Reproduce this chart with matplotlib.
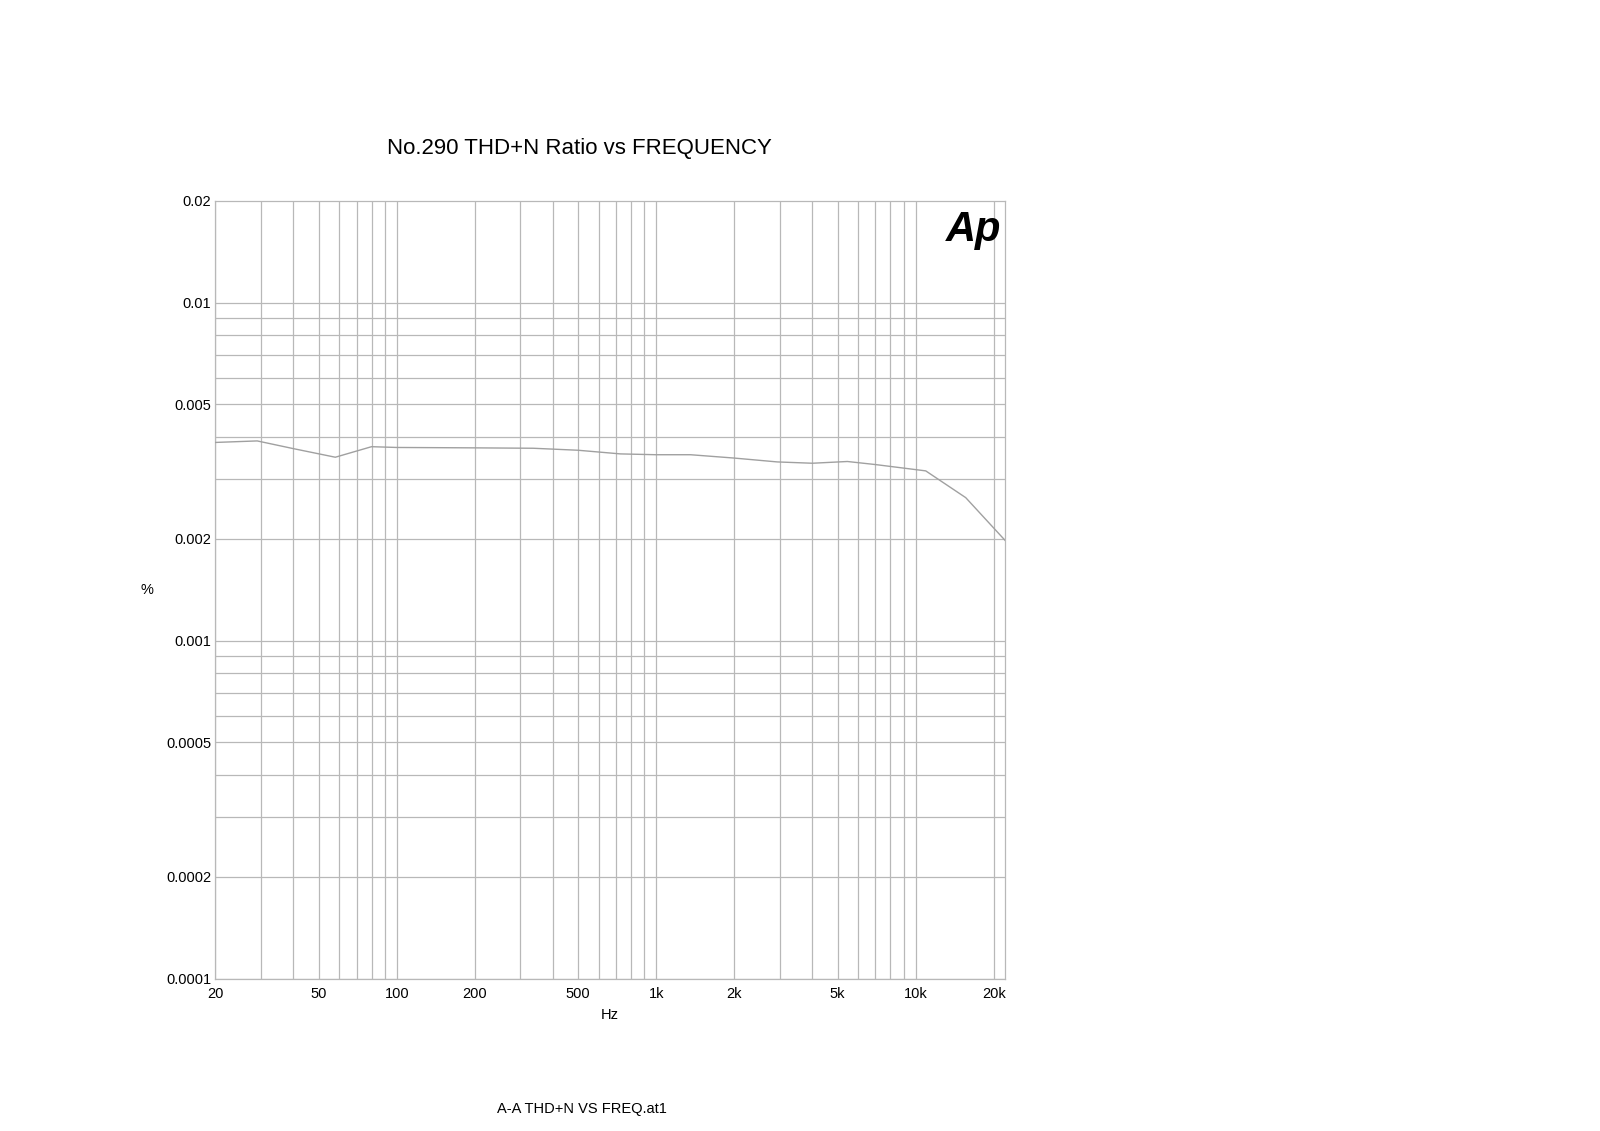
import numpy as np
import matplotlib.pyplot as plt
from matplotlib.ticker import FixedLocator, NullFormatter

plt.rcParams['font.family'] = ['Liberation Sans', 'DejaVu Sans']

# THD+N sweep
freq = [20, 29, 40, 58, 80, 100, 200, 336, 500, 728, 1000, 1356, 2000, 2930, 4000, 5458, 7000, 10940, 15600, 22130]
thd = [0.00386, 0.0039, 0.00370, 0.00349, 0.00375, 0.00373, 0.00372, 0.00371, 0.00366, 0.00357,
       0.00355, 0.00355, 0.00347, 0.00338, 0.00335, 0.00339, 0.00332, 0.00318, 0.00265, 0.00198]

x_ticks = [20, 50, 100, 200, 500, 1000, 2000, 5000, 10000, 20000]
x_labels = ['20', '50', '100', '200', '500', '1k', '2k', '5k', '10k', '20k']
y_ticks = [0.0001, 0.0002, 0.0005, 0.001, 0.002, 0.005, 0.01, 0.02]
y_labels = ['0.0001', '0.0002', '0.0005', '0.001', '0.002', '0.005', '0.01', '0.02']

x_grid = [m * 10 ** e for e in range(1, 5) for m in range(1, 10)]
x_grid = [v for v in x_grid if 20 <= v <= 22000]
y_grid = [m * 10 ** e for e in range(-4, -1) for m in range(1, 10)]
y_grid = [v for v in y_grid if 0.0001 <= v <= 0.01]

fig = plt.figure(figsize=(16, 11.31), dpi=100)
ax = fig.add_axes([0.1346, 0.1347, 0.4936, 0.6876])

ax.set_xscale('log')
ax.set_yscale('log')
ax.set_xlim(20, 22130)
ax.set_ylim(0.0001, 0.02)

gc = '#b8b8b8'
for v in x_grid:
    ax.axvline(v, color=gc, lw=0.9, zorder=1)
for v in y_grid:
    ax.axhline(v, color=gc, lw=0.9, zorder=1)

ax.plot(freq, thd, color='#a0a0a0', lw=1.0, zorder=3)

ax.xaxis.set_major_locator(FixedLocator(x_ticks))
ax.set_xticklabels(x_labels)
ax.yaxis.set_major_locator(FixedLocator(y_ticks))
ax.set_yticklabels(y_labels)
ax.xaxis.set_minor_formatter(NullFormatter())
ax.yaxis.set_minor_formatter(NullFormatter())
ax.tick_params(which='both', length=0, labelsize=10.5, colors='black')
ax.tick_params(axis='x', pad=6)
ax.tick_params(axis='y', pad=3)
for s in ax.spines.values():
    s.set_color(gc)
    s.set_linewidth(0.9)

# Ap logo, drawn as text
ax.text(0.995, 0.988, 'Ap', transform=ax.transAxes, ha='right', va='top',
        fontsize=30, fontweight='bold', fontstyle='italic', color='black', zorder=4)

fig.text(0.362, 0.869, 'No.290 THD+N Ratio vs FREQUENCY', ha='center', va='center', fontsize=16)
fig.text(0.092, 0.478, '%', ha='center', va='center', fontsize=10.5)
fig.text(0.381, 0.103, 'Hz', ha='center', va='center', fontsize=10.5)
fig.text(0.364, 0.0195, 'A-A THD+N VS FREQ.at1', ha='center', va='center', fontsize=10.5)

fig.savefig('out.png', dpi=100)
